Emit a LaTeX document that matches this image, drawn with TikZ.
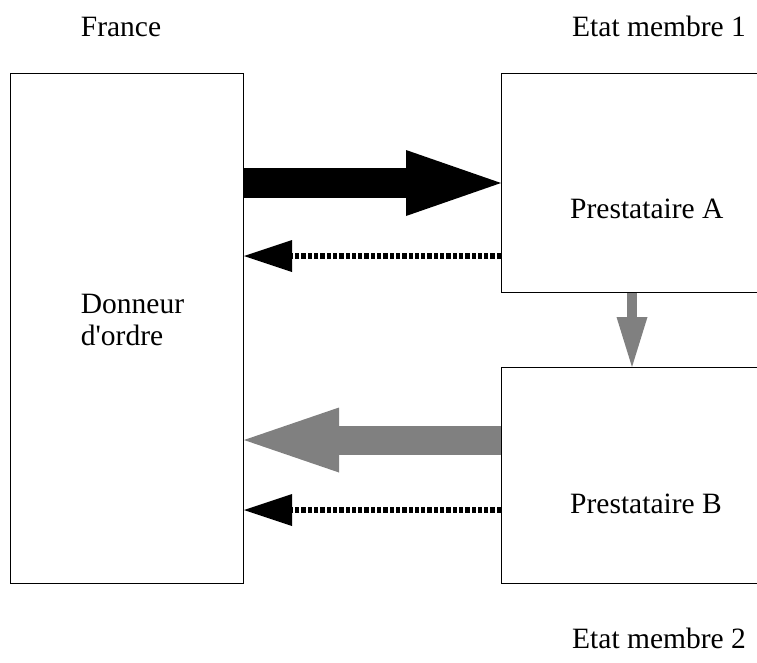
\documentclass[tikz,border=0pt]{standalone}
\usepackage{fontspec}
\setmainfont{Liberation Serif}
\usetikzlibrary{arrows.meta}
\definecolor{gray50}{HTML}{808080}
\tikzset{
  box/.style={draw=black, line width=1pt, rectangle, anchor=north west, inner sep=0pt, fill=none},
  lbl/.style={anchor=base west, inner sep=0pt, font=\fontsize{29.5}{32}\selectfont},
  bigblack/.style={line width=30pt, draw=black, -{Triangle[length=95pt,width=66pt,line width=0pt]}},
  biggray/.style={line width=29pt, draw=gray50, -{Triangle[length=95pt,width=65pt,line width=0pt]}},
  smallgray/.style={line width=10pt, draw=gray50, -{Triangle[length=50pt,width=31pt,line width=0pt]}},
  dotarrow/.style={line width=6pt, draw=black, dash pattern=on 4.3pt off 2pt, -{Triangle[length=48pt,width=32pt,line width=0pt]}},
}
\begin{document}
\begin{tikzpicture}[x=1pt,y=-1pt]
\useasboundingbox (0,0) rectangle (757,662);
\clip (0,0) rectangle (757,662);
\node[box, minimum width=233pt, minimum height=510pt] (L) at (10,73) {};
\node[box, minimum width=300pt, minimum height=219pt] (A) at (501,73) {};
\node[box, minimum width=300pt, minimum height=216pt] (B) at (501,367) {};
\coordinate (y1) at (0,183);
\coordinate (y2) at (0,256);
\coordinate (y3) at (0,440);
\coordinate (y4) at (0,510);
\coordinate (xd) at (632,0);
\draw[bigblack] (L.east |- y1) -- (A.west |- y1);
\draw[dotarrow] (A.west |- y2) -- (L.east |- y2);
\draw[biggray] (B.west |- y3) -- (L.east |- y3);
\draw[dotarrow] (B.west |- y4) -- (L.east |- y4);
\draw[smallgray] (A.south -| xd) -- (B.north -| xd);
\node[lbl] (fr) at (80.7,36.7) {France};
\node[lbl] (e1) at (572,36) {Etat membre 1};
\node[lbl] (pa) at (570,218) {Prestataire A};
\node[lbl] (pb) at (570,513) {Prestataire B};
\node[lbl] (e2) at (572,648) {Etat membre 2};
\node[lbl] (d1) at (80.7,313) {Donneur};
\node[lbl] (d2) at (80.7,345) {d\textquotesingle ordre};
\end{tikzpicture}
\end{document}
